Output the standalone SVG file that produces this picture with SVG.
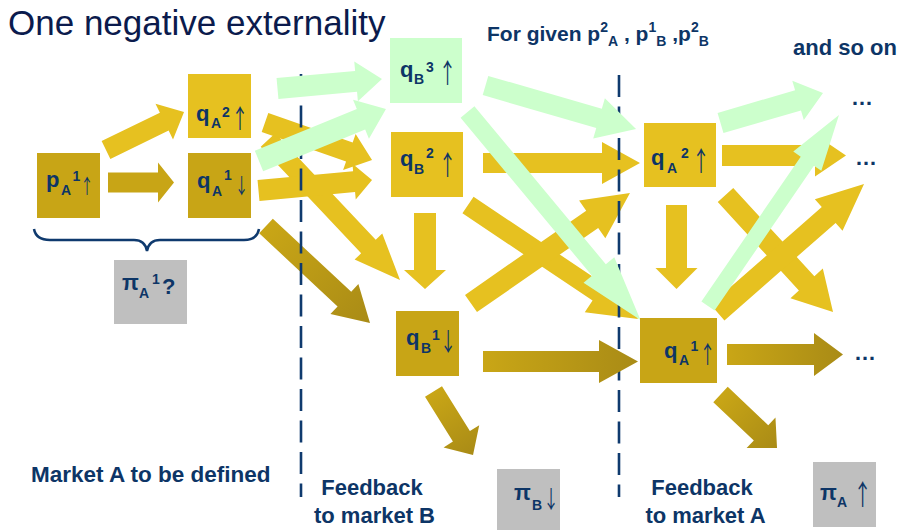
<svg xmlns="http://www.w3.org/2000/svg" width="901" height="530" viewBox="0 0 901 530">
<defs>
<linearGradient id="dg" x1="0" y1="0" x2="1" y2="0">
<stop offset="0" stop-color="#c9a616"/>
<stop offset="1" stop-color="#a98b16"/>
</linearGradient>
<style>
.lg{fill:#e6c120}
.dk{fill:url(#dg)}
.dks{fill:#c8a516}
.gr{fill:#ccffcc}
.bl{fill:#e6c120}
.bd{fill:#c8a516}
.bg{fill:#ccffcc}
.bx{fill:#bfbfbf}
.t{font-family:"Liberation Sans",Arial,sans-serif;font-weight:bold;fill:#0d3566}
.nt{font-family:"Liberation Sans",Arial,sans-serif;font-weight:bold;font-size:22px;fill:#0d3566}
.ss{font-size:14px}
.ar{font-family:"Noto Sans CJK JP","Liberation Sans",sans-serif;font-weight:normal;fill:#0d3566;text-anchor:middle}
.dash{stroke:#0f3a6e;stroke-width:2.6;stroke-dasharray:22 9.5;fill:none}
</style>
</defs>

<text x="8" y="35" style="font-family:'Liberation Sans',Arial,sans-serif;font-size:35px;fill:#0b1b4d">One negative externality</text>
<text class="t" x="487" y="41" font-size="21">For given p<tspan font-size="14" dy="-9">2</tspan><tspan font-size="14" dy="14">A</tspan><tspan dy="-5"> , p</tspan><tspan font-size="14" dy="-9">1</tspan><tspan font-size="14" dy="14">B</tspan><tspan dy="-5"> ,p</tspan><tspan font-size="14" dy="-9">2</tspan><tspan font-size="14" dy="14">B</tspan></text>
<text class="t" x="793" y="55" font-size="22">and so on</text>

<g id="connectors">
<g id="light-arrows">
<path class="lg" transform="translate(106,150) rotate(-25.97)" d="M0,-10H64.8V-20L86.8,0L64.8,20V10H0Z"/>
<path class="lg" transform="translate(268,140) rotate(46.68)" d="M0,-10H146.4V-19L192.4,0L146.4,19V10H0Z"/>
<path class="lg" transform="translate(265,122.5) rotate(19.3)" d="M0,-10H89.4V-19L113.4,0L89.4,19V10H0Z"/>
<path class="lg" transform="translate(258.5,190.5) rotate(-5.29)" d="M0,-10.5H96V-18L114,0L96,18V10.5H0Z"/>
<path class="lg" transform="translate(425,213) rotate(90)" d="M0,-11H57V-21L76,0L57,21V11H0Z"/>
<path class="lg" transform="translate(483,163)" d="M0,-10H119V-21L157,0L119,21V10H0Z"/>
<path class="lg" transform="translate(468,205) rotate(33.85)" d="M0,-10H156.7V-24L204.7,0L156.7,24V10H0Z"/>
<path class="lg" transform="translate(471,303.5) rotate(-34.8)" d="M0,-10.5H147.6V-23L193.6,0L147.6,23V10.5H0Z"/>
<path class="lg" transform="translate(722,155.5)" d="M0,-10.5H93V-21L124,0L93,21V10.5H0Z"/>
<path class="lg" transform="translate(676.5,205) rotate(90)" d="M0,-10.5H63V-21L84,0L63,21V10.5H0Z"/>
<path class="lg" transform="translate(725.5,195) rotate(47.42)" d="M0,-10.5H119.9V-22L158.9,0L119.9,22V10.5H0Z"/>
<path class="lg" transform="translate(717.5,312.5) rotate(-41.25)" d="M0,-10.5H147.9V-21L194.9,0L147.9,21V10.5H0Z"/>
</g>
<g id="dark-arrows">
<path class="dks" transform="translate(108,182.5)" d="M0,-10H50V-20L66,0L50,20V10H0Z"/>
<path class="dk" transform="translate(266,226) rotate(43)" d="M0,-10H107.2V-20.5L142.2,0L107.2,20.5V10H0Z"/>
<path class="dk" transform="translate(433.5,391.5) rotate(58.1)" d="M0,-10H52.8V-21L74.8,0L52.8,21V10H0Z"/>
<path class="dk" transform="translate(727,354.5)" d="M0,-10.5H87V-21.5L116,0L87,21.5V10.5H0Z"/>
<path class="dk" transform="translate(720.5,394.5) rotate(43.4)" d="M0,-10.5H55.8V-21L77.8,0L55.8,21V10.5H0Z"/>
</g>
<g id="dividers">
<line class="dash" x1="301" y1="74" x2="301" y2="497"/>
<line class="dash" x1="619" y1="75" x2="619" y2="497"/>
</g>
<g id="green-arrows">
<path class="gr" transform="translate(277.5,88.5) rotate(-5.2)" d="M0,-10.5H78.9V-20L104.9,0L78.9,20V10.5H0Z"/>
<path class="gr" transform="translate(259,161) rotate(-22.26)" d="M0,-11H110.2V-21L137.2,0L110.2,21V11H0Z"/>
<path class="gr" transform="translate(485.5,85.5) rotate(16.12)" d="M0,-10H118.2V-21L156.7,0L118.2,21V10H0Z"/>
<path class="gr" transform="translate(467.5,112) rotate(50.25)" d="M0,-9H205.5V-20L270.5,0L205.5,20V9H0Z"/>
<path class="gr" transform="translate(708,306) rotate(-55.56)" d="M0,-8H175.6V-17L231.6,0L175.6,17V8H0Z"/>
<path class="gr" transform="translate(720.5,123) rotate(-16.31)" d="M0,-10.5H80.8V-20.5L106.8,0L80.8,20.5V10.5H0Z"/>
</g>
<path class="dk" transform="translate(483,361.5)" d="M0,-10.5H116V-21.5L155,0L116,21.5V10.5H0Z"/>
<path d="M34,229 Q36,240 50,240 H134 Q145,240 147,251 Q149,240 160,240 H244 Q257,240 259,229" fill="none" stroke="#0f3a6e" stroke-width="2.5"/>
</g>

<g id="pA1">
<rect class="bd" x="37" y="153" width="63" height="65"/>
<text class="nt"><tspan x="46" y="187">p</tspan><tspan class="ss" x="61" y="195">A</tspan><tspan class="ss" x="72.5" y="181">1</tspan></text>
<text class="ar" transform="translate(87,194) scale(0.65,1)" font-size="20">↑</text>
</g>
<g id="qA1">
<rect class="bd" x="188" y="153" width="63" height="65"/>
<text class="nt"><tspan x="197" y="188">q</tspan><tspan class="ss" x="212" y="196">A</tspan><tspan class="ss" x="224" y="180">1</tspan></text>
<text class="ar" transform="translate(241.5,193) scale(0.65,1)" font-size="21">↓</text>
</g>
<g id="qA2">
<rect class="bl" x="188" y="74" width="63" height="64"/>
<text class="nt"><tspan x="196" y="121">q</tspan><tspan class="ss" x="211" y="128">A</tspan><tspan class="ss" x="222" y="117">2</tspan></text>
<text class="ar" transform="translate(240,128) scale(0.65,1)" font-size="26">↑</text>
</g>
<g id="piA1">
<rect class="bx" x="114" y="260" width="73" height="64"/>
<text class="nt"><tspan x="122" y="290">π</tspan><tspan class="ss" x="139" y="298">A</tspan><tspan class="ss" x="152" y="284">1</tspan><tspan x="162" y="294">?</tspan></text>
</g>
<g id="qB3">
<rect class="bg" x="390" y="38" width="72" height="65"/>
<text class="nt"><tspan x="400" y="77">q</tspan><tspan class="ss" x="414" y="84">B</tspan><tspan class="ss" x="426" y="72">3</tspan></text>
<text class="ar" transform="translate(447.5,83) scale(0.65,1)" font-size="27">↑</text>
</g>
<g id="qB2">
<rect class="bl" x="391" y="132" width="72" height="65"/>
<text class="nt"><tspan x="400" y="166">q</tspan><tspan class="ss" x="414" y="174">B</tspan><tspan class="ss" x="426" y="158">2</tspan></text>
<text class="ar" transform="translate(447.5,175) scale(0.65,1)" font-size="27">↑</text>
</g>
<g id="qB1">
<rect class="bd" x="396" y="311" width="63" height="65"/>
<text class="nt"><tspan x="406" y="345">q</tspan><tspan class="ss" x="421" y="353">B</tspan><tspan class="ss" x="432" y="340">1</tspan></text>
<text class="ar" transform="translate(448,351) scale(0.65,1)" font-size="25">↓</text>
</g>
<g id="piB">
<rect class="bx" x="497" y="469" width="63" height="61"/>
<text class="nt"><tspan x="514" y="500">π</tspan><tspan class="ss" x="532" y="510">B</tspan></text>
<text class="ar" transform="translate(551,508) scale(0.65,1)" font-size="24">↓</text>
</g>
<g id="qA2r">
<rect class="bl" x="644" y="123" width="72" height="64"/>
<text class="nt"><tspan x="651" y="165">q</tspan><tspan class="ss" x="667" y="173">A</tspan><tspan class="ss" x="681" y="158">2</tspan></text>
<text class="ar" transform="translate(701,171) scale(0.65,1)" font-size="27">↑</text>
</g>
<g id="qA1r">
<rect class="bd" x="640" y="318" width="77" height="65"/>
<text class="nt"><tspan x="664" y="358">q</tspan><tspan class="ss" x="679" y="365">A</tspan><tspan class="ss" x="690.5" y="351">1</tspan></text>
<text class="ar" transform="translate(707.5,363) scale(0.65,1)" font-size="24">↑</text>
</g>
<g id="piA">
<rect class="bx" x="813" y="462" width="63" height="65"/>
<text class="nt"><tspan x="820" y="500">π</tspan><tspan class="ss" x="837" y="507">A</tspan></text>
<text class="ar" transform="translate(862.5,505) scale(0.65,1)" font-size="28">↑</text>
</g>
<g id="dots">
<text class="nt" x="851" y="105">…</text>
<text class="nt" x="855" y="165">…</text>
<text class="nt" x="854" y="360">…</text>
</g>
<g id="labels">
<text class="t" x="31" y="482" font-size="22.5">Market A to be defined</text>
<text class="t" x="372" y="495" font-size="22" text-anchor="middle">Feedback</text>
<text class="t" x="374.5" y="523" font-size="22" text-anchor="middle">to market B</text>
<text class="t" x="702" y="495" font-size="22" text-anchor="middle">Feedback</text>
<text class="t" x="705.5" y="523" font-size="22" text-anchor="middle">to market A</text>
</g>
</svg>
